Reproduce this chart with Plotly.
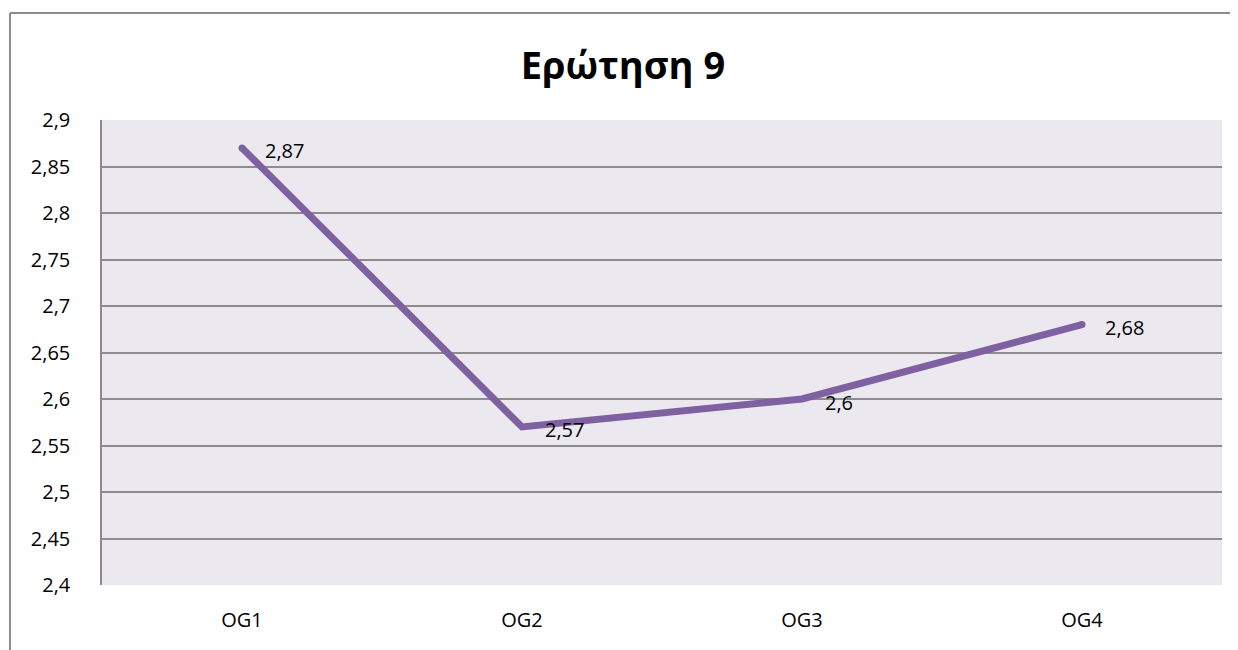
import plotly.graph_objects as go

categories = ["OG1", "OG2", "OG3", "OG4"]
values = [2.87, 2.57, 2.60, 2.68]
y_ticks = [2.4, 2.45, 2.5, 2.55, 2.6, 2.65, 2.7, 2.75, 2.8, 2.85, 2.9]
title_text = "Ερώτηση 9"

labels = [("%g" % v).replace(".", ",") for v in values]

FONT = "Open Sans, Noto Sans, sans-serif"
LINE_COLOR = "#7F60A1"

fig = go.Figure()
fig.add_trace(go.Scatter(
    x=categories, y=values, mode="lines+markers",
    line=dict(color=LINE_COLOR, width=7),
    marker=dict(color=LINE_COLOR, size=[7, 0, 0, 7], opacity=1,
                line=dict(width=0)),
    hoverinfo="skip", showlegend=False, cliponaxis=False,
))

annotations = [
    dict(x=c, y=v, xref="x", yref="y", text=t, showarrow=False,
         xanchor="left", yanchor="middle", xshift=21, yshift=-3,
         font=dict(family=FONT, size=20, color="#000000"))
    for c, v, t in zip(categories, values, labels)
]

# page body has an 8px margin, so figure origin is at (8, 8) in the window
OFF = 8
W, H = 1238 - OFF, 650 - OFF
ml, mr, mt, mb = 102 - OFF, 16, 120 - OFF, 65
pw, ph = W - ml - mr, H - mt - mb

def px(x):
    return (x - OFF - ml) / pw

def py(y):
    return (H - mb - (y - OFF)) / ph

fig.update_layout(
    width=W, height=H,
    margin=dict(l=ml, r=mr, t=mt, b=mb, pad=0),
    paper_bgcolor="#FFFFFF", plot_bgcolor="#EBE9EF",
    separators=",.",
    title=dict(text="<b>%s</b>" % title_text, x=0.5, xanchor="center",
               y=1 - (66 - OFF) / H, yanchor="middle",
               font=dict(family=FONT, size=38, color="#000000")),
    xaxis=dict(range=[-0.5, 3.5], showgrid=False, zeroline=False,
               showline=False, ticks="", ticklabelstandoff=21,
               tickfont=dict(family=FONT, size=20, color="#000000")),
    yaxis=dict(range=[2.4, 2.9], tickvals=y_ticks, showgrid=True,
               gridcolor="#8C8C8C", gridwidth=1.5, zeroline=False,
               showline=True, linecolor="#8C8C8C", linewidth=1.5,
               ticks="", ticklabelstandoff=26,
               tickfont=dict(family=FONT, size=20, color="#000000")),
    annotations=annotations,
    shapes=[
        dict(type="line", xref="paper", yref="paper",
             x0=px(10), x1=px(1260), y0=py(13), y1=py(13),
             line=dict(color="#8C8C8C", width=2)),
        dict(type="line", xref="paper", yref="paper",
             x0=px(10), x1=px(10), y0=py(13), y1=py(680),
             line=dict(color="#8C8C8C", width=2)),
    ],
)

fig.write_html("out.html")
